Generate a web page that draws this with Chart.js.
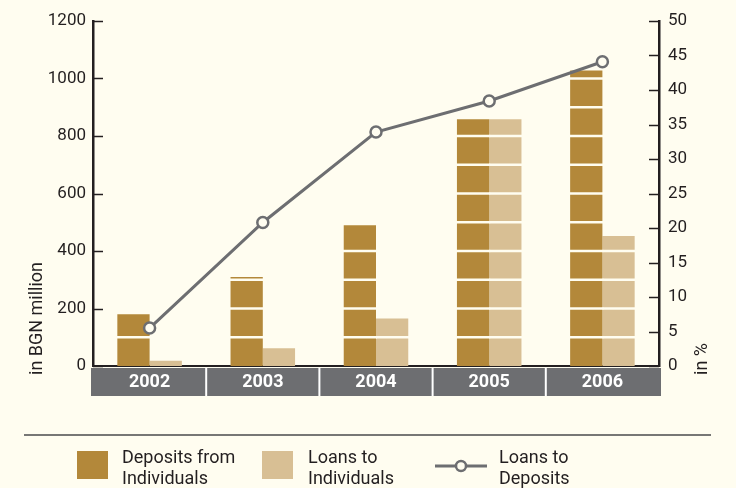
<!DOCTYPE html>
<html>
<head>
<meta charset="utf-8">
<script src="https://cdn.jsdelivr.net/npm/chart.js@4.4.0/dist/chart.umd.min.js"></script>
<style>
  html, body { margin: 0; padding: 0; background: #fffdf0; }
</style>
</head>
<body>
<canvas id="myChart" width="736" height="488"></canvas>
<script>
// values in BGN million and in %
const years = ['2002', '2003', '2004', '2005', '2006'];
const deposits = [180, 310, 490, 858, 1028];
const loans = [18, 62, 165, 858, 452];
const loansToDeposits = [5.5, 20.8, 33.9, 38.4, 44.1];

const leftAxis = { min: 0, max: 1200, step: 200 };
const rightAxis = { min: 0, max: 50, step: 5 };

const legendText = [
  ['Deposits from', 'Individuals'],
  ['Loans to', 'Individuals'],
  ['Loans to', 'Deposits']
];

const bg = '#fffdf0';
const ink = '#231f20';
const grey = '#6d6e71';
const font = 'Roboto, "Liberation Sans", sans-serif';
const stripeStep = 100;

const decor = {
  id: 'decor',
  beforeDraw: (chart) => {
    const ctx = chart.ctx;
    const area = chart.chartArea;
    const x = chart.scales.x;
    ctx.save();
    ctx.fillStyle = bg;
    ctx.fillRect(0, 0, chart.width, chart.height);

    // grey band under the bars holding the year labels
    ctx.fillStyle = grey;
    ctx.fillRect(area.left - 2, area.bottom + 2, area.right - area.left + 4, 28);
    ctx.strokeStyle = '#ffffff';
    ctx.lineWidth = 2;
    for (let i = 0; i < years.length - 1; i++) {
      const sx = (x.getPixelForValue(i) + x.getPixelForValue(i + 1)) / 2;
      ctx.beginPath();
      ctx.moveTo(sx, area.bottom + 2);
      ctx.lineTo(sx, area.bottom + 30);
      ctx.stroke();
    }
    ctx.restore();
  },
  afterDatasetDraw: (chart, args) => {
    const meta = args.meta;
    if (meta.type !== 'bar') return;
    const ctx = chart.ctx;
    const y = chart.scales.y;
    const values = chart.data.datasets[args.index].data;
    ctx.save();
    ctx.strokeStyle = bg;
    ctx.lineWidth = 2.5;
    meta.data.forEach((bar, i) => {
      for (let v = stripeStep; v < values[i]; v += stripeStep) {
        const py = y.getPixelForValue(v);
        ctx.beginPath();
        ctx.moveTo(bar.x - bar.width / 2 - 1, py);
        ctx.lineTo(bar.x + bar.width / 2 + 1, py);
        ctx.stroke();
      }
    });
    ctx.restore();
  },
  afterDraw: (chart) => {
    const ctx = chart.ctx;
    const area = chart.chartArea;
    ctx.save();

    // tick marks pointing into the plot
    ctx.strokeStyle = ink;
    ctx.lineWidth = 1.5;
    chart.scales.y.ticks.forEach(t => {
      const py = Math.round(chart.scales.y.getPixelForValue(t.value)) + 0.5;
      ctx.beginPath();
      ctx.moveTo(area.left, py);
      ctx.lineTo(area.left + 10, py);
      ctx.stroke();
    });
    chart.scales.y1.ticks.forEach(t => {
      const py = Math.round(chart.scales.y1.getPixelForValue(t.value)) + 0.5;
      ctx.beginPath();
      ctx.moveTo(area.right - 10, py);
      ctx.lineTo(area.right, py);
      ctx.stroke();
    });

    // axis titles
    ctx.fillStyle = ink;
    ctx.font = '18px ' + font;
    ctx.textAlign = 'left';
    ctx.textBaseline = 'middle';
    ctx.save();
    ctx.translate(37, 375);
    ctx.rotate(-Math.PI / 2);
    ctx.fillText('in BGN million', 0, 0);
    ctx.restore();
    ctx.save();
    ctx.translate(702, 375);
    ctx.rotate(-Math.PI / 2);
    ctx.fillText('in %', 0, 0);
    ctx.restore();

    // legend
    ctx.strokeStyle = '#4a4a4c';
    ctx.lineWidth = 1.5;
    ctx.beginPath();
    ctx.moveTo(24, 435);
    ctx.lineTo(711, 435);
    ctx.stroke();

    const ds = chart.data.datasets;
    ctx.font = '18px ' + font;
    ctx.textBaseline = 'alphabetic';
    ctx.fillStyle = ds[0].backgroundColor;
    ctx.fillRect(77, 451, 31, 28);
    ctx.fillStyle = ds[1].backgroundColor;
    ctx.fillRect(262, 451, 31, 28);

    ctx.strokeStyle = ds[2].borderColor;
    ctx.lineWidth = 3;
    ctx.beginPath();
    ctx.moveTo(435, 466);
    ctx.lineTo(487, 466);
    ctx.stroke();
    ctx.beginPath();
    ctx.arc(461, 466, 5, 0, Math.PI * 2);
    ctx.fillStyle = bg;
    ctx.fill();
    ctx.lineWidth = 2.5;
    ctx.stroke();

    ctx.fillStyle = ink;
    [122, 308, 499].forEach((lx, i) => {
      ctx.fillText(legendText[i][0], lx, 463);
      ctx.fillText(legendText[i][1], lx, 484);
    });
    ctx.restore();
  }
};

const data = {
  labels: years,
  datasets: [
    {
      type: 'bar',
      label: 'Deposits from Individuals',
      data: deposits,
      backgroundColor: '#b3883a',
      yAxisID: 'y',
      order: 2,
      categoryPercentage: 0.57,
      barPercentage: 1.0
    },
    {
      type: 'bar',
      label: 'Loans to Individuals',
      data: loans,
      backgroundColor: '#d8bf94',
      yAxisID: 'y',
      order: 2,
      categoryPercentage: 0.57,
      barPercentage: 1.0
    },
    {
      type: 'line',
      label: 'Loans to Deposits',
      data: loansToDeposits,
      yAxisID: 'y1',
      order: 0,
      borderColor: grey,
      borderWidth: 3,
      pointRadius: 5.5,
      pointBorderWidth: 2.5,
      pointBackgroundColor: bg,
      pointBorderColor: grey,
      tension: 0
    }
  ]
};

const plainNumber = (v) => String(v);

const config = {
  type: 'bar',
  data: data,
  plugins: [decor],
  options: {
    responsive: false,
    animation: false,
    layout: { padding: { top: 21, bottom: 92, left: 0, right: 0 } },
    plugins: {
      legend: { display: false },
      tooltip: { enabled: false }
    },
    scales: {
      x: {
        grid: { display: false, drawTicks: false },
        border: { display: true, color: ink, width: 2 },
        ticks: { color: '#ffffff', padding: 6, font: { family: font, size: 18, weight: 'bold' } },
        afterFit: (s) => { s.height = 30; }
      },
      y: {
        position: 'left',
        min: leftAxis.min,
        max: leftAxis.max,
        grid: { display: false, drawTicks: false },
        border: { display: true, color: ink, width: 2.5 },
        ticks: { stepSize: leftAxis.step, callback: plainNumber, color: ink, padding: 7, font: { family: font, size: 17 } },
        afterFit: (s) => { s.width = 93; }
      },
      y1: {
        position: 'right',
        min: rightAxis.min,
        max: rightAxis.max,
        grid: { display: false, drawTicks: false },
        border: { display: true, color: ink, width: 2.5 },
        ticks: { stepSize: rightAxis.step, callback: plainNumber, color: ink, padding: 9, font: { family: font, size: 17 } },
        afterFit: (s) => { s.width = 77; }
      }
    }
  }
};

const myChart = new Chart(document.getElementById('myChart'), config);
</script>
</body>
</html>
